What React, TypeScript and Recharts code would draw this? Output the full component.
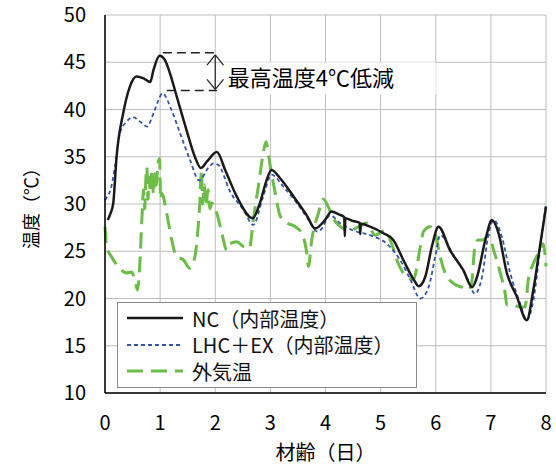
import {
  LineChart,
  Line,
  XAxis,
  YAxis,
  CartesianGrid,
  Legend,
  ReferenceLine,
  ReferenceArea,
} from "recharts";

// [材齢(日), 温度(℃)]
const ncPoints: [number, number][] = [
  [0.05, 28.3], [0.1, 29.0], [0.15, 30.1], [0.21, 35.0], [0.33, 39.6], [0.45, 42.4],
  [0.57, 43.5], [0.7, 43.3], [0.82, 42.9], [0.88, 44.2], [0.99, 45.7], [1.09, 45.2],
  [1.18, 43.8], [1.3, 41.4], [1.48, 37.8], [1.63, 35.0], [1.74, 33.8], [1.85, 34.5],
  [2.03, 35.5], [2.18, 33.6], [2.39, 30.8], [2.68, 28.5], [2.81, 30.1], [2.93, 32.5],
  [3.02, 33.6], [3.18, 32.7], [3.42, 30.8], [3.66, 28.8], [3.81, 27.4], [3.99, 28.3],
  [4.11, 29.2], [4.24, 28.9], [4.34, 28.6], [4.35, 26.6], [4.36, 28.5], [4.5, 28.2],
  [4.62, 28.0], [4.63, 26.8], [4.64, 27.9], [4.81, 27.6], [5.05, 26.9], [5.23, 26.2],
  [5.41, 24.1], [5.6, 22.0], [5.69, 21.3], [5.81, 22.3], [5.93, 25.5], [6.05, 27.6],
  [6.26, 25.1], [6.5, 23.0], [6.66, 21.2], [6.75, 22.3], [6.9, 26.2], [7.02, 28.3],
  [7.14, 26.9], [7.29, 22.7], [7.47, 20.2], [7.65, 17.7], [7.77, 20.9], [7.89, 25.5],
  [8.0, 29.7],
];

const lhcPoints: [number, number][] = [
  [0, 30.4], [0.04, 30.8], [0.09, 31.3], [0.18, 33.9], [0.27, 37.5], [0.39, 38.7],
  [0.51, 39.2], [0.64, 38.7], [0.76, 38.2], [0.88, 39.6], [0.97, 41.0], [1.04, 41.7],
  [1.21, 39.9], [1.36, 37.5], [1.54, 34.7], [1.71, 32.5], [1.87, 33.8], [1.97, 34.3],
  [2.06, 34.1], [2.27, 31.3], [2.51, 29.4], [2.69, 27.8], [2.87, 30.8], [3.02, 33.1],
  [3.24, 31.8], [3.48, 30.1], [3.72, 28.1], [3.84, 27.1], [3.92, 27.3], [4.08, 28.8],
  [4.26, 28.0], [4.5, 27.2], [4.81, 26.7], [5.11, 25.8], [5.35, 24.1], [5.54, 22.0],
  [5.72, 20.0], [5.87, 21.2], [5.99, 24.4], [6.08, 26.7], [6.32, 24.6], [6.56, 22.3],
  [6.71, 20.5], [6.84, 22.3], [6.96, 26.9], [7.05, 28.3], [7.2, 26.5], [7.35, 22.7],
  [7.53, 19.5], [7.65, 17.7], [7.77, 19.8], [7.89, 25.1], [8.0, 30.1],
];

const outsidePoints: [number, number][] = [
  [0, 27.6], [0.03, 25.5], [0.12, 24.4], [0.24, 23.4], [0.39, 22.7], [0.48, 22.8],
  [0.54, 22.0], [0.59, 20.9], [0.63, 23.5], [0.67, 28.5], [0.7, 31.5], [0.72, 29.5],
  [0.74, 32.5], [0.76, 33.9], [0.78, 30.5], [0.8, 32.8], [0.82, 31.2], [0.85, 33.5],
  [0.88, 31.0], [0.9, 33.2], [0.93, 32.0], [0.96, 34.3], [0.99, 34.8], [1.01, 30.5],
  [1.03, 31.1], [1.12, 29.0], [1.21, 26.2], [1.3, 24.4], [1.42, 24.1], [1.54, 23.2],
  [1.63, 24.4], [1.68, 26.9], [1.72, 30.1], [1.75, 33.6], [1.77, 30.0], [1.8, 32.0],
  [1.83, 29.8], [1.87, 31.5], [1.9, 29.5], [1.94, 30.1], [2.03, 29.0], [2.12, 26.9],
  [2.21, 25.1], [2.27, 25.8], [2.39, 26.0], [2.51, 25.5], [2.62, 25.3], [2.69, 28.3],
  [2.78, 31.8], [2.86, 35.0], [2.92, 36.6], [2.99, 34.3], [3.09, 31.1], [3.18, 28.7],
  [3.3, 28.0], [3.45, 27.6], [3.57, 26.9], [3.66, 24.8], [3.69, 23.4], [3.75, 26.2],
  [3.87, 29.0], [3.96, 30.5], [4.05, 29.7], [4.14, 28.5], [4.27, 27.6], [4.45, 27.2],
  [4.6, 27.6], [4.75, 28.0], [4.9, 26.7], [5.08, 27.2], [5.2, 25.8], [5.32, 23.7],
  [5.47, 22.3], [5.6, 22.0], [5.66, 23.4], [5.72, 25.5], [5.78, 27.1], [5.9, 27.6],
  [5.99, 26.9], [6.08, 24.4], [6.17, 22.7], [6.32, 21.6], [6.47, 21.2], [6.59, 20.9],
  [6.65, 21.6], [6.71, 25.5], [6.77, 26.2], [6.86, 26.2], [6.96, 26.7], [7.05, 25.1],
  [7.17, 22.7], [7.26, 20.5], [7.29, 19.3], [7.41, 19.3], [7.53, 19.1], [7.62, 19.1],
  [7.68, 22.0], [7.77, 23.7], [7.89, 25.1], [7.95, 25.8], [8.0, 23.4],
];

const xTicks = [0, 1, 2, 3, 4, 5, 6, 7, 8];
const yTicks = [10, 15, 20, 25, 30, 35, 40, 45, 50];
const seriesNames = ["NC（内部温度）", "LHC＋EX（内部温度）", "外気温"];

const toRows = (pts: [number, number][]) => pts.map(([t, v]) => ({ t, v }));

const FONT = '"Noto Sans CJK JP", "Noto Sans", sans-serif';

function LegendBox() {
  const samples = [
    { stroke: "#1a1a1a", dash: undefined, width: 2.5 },
    { stroke: "#3553a8", dash: "4 3", width: 1.8 },
    { stroke: "#6abd45", dash: "16 8", width: 3 },
  ];
  return (
    <div style={{ paddingTop: 2, paddingLeft: 9 }}>
      {seriesNames.map((name, i) => (
        <div key={name} style={{ display: "flex", alignItems: "center", height: 26.5 }}>
          <svg width={56} height={10} style={{ marginRight: 9 }}>
            <line
              x1={0}
              y1={5}
              x2={56}
              y2={5}
              stroke={samples[i].stroke}
              strokeWidth={samples[i].width}
              strokeDasharray={samples[i].dash}
            />
          </svg>
          <span style={{ fontSize: 20, color: "#111", fontFamily: FONT }}>{name}</span>
        </div>
      ))}
    </div>
  );
}

export default function App() {
  return (
    <div style={{ position: "absolute", left: 0, top: 0, fontFamily: FONT, background: "#fff" }}>
      <LineChart width={556} height={468} margin={{ top: 15, right: 10, bottom: 0, left: 0 }}>
        <CartesianGrid stroke="#bdbdbd" strokeWidth={1} />
        <XAxis
          type="number"
          dataKey="t"
          domain={[0, 8]}
          ticks={xTicks}
          height={75}
          tickSize={0}
          tickMargin={23}
          axisLine={{ stroke: "#000", strokeWidth: 1.5 }}
          tick={{ fill: "#000", fontSize: 20 }}
          label={{ value: "材齢（日）", position: "insideBottom", offset: 8, fill: "#000", fontSize: 20 }}
          allowDuplicatedCategory={false}
        />
        <YAxis
          type="number"
          domain={[10, 50]}
          ticks={yTicks}
          width={105}
          tickSize={0}
          tickMargin={19}
          axisLine={{ stroke: "#000", strokeWidth: 1.5 }}
          tick={{ fill: "#000", fontSize: 20 }}
          label={{
            value: "温度（℃）",
            angle: -90,
            position: "insideLeft",
            offset: 32,
            fill: "#000",
            fontSize: 18,
            style: { textAnchor: "middle" },
          }}
        />
        <ReferenceArea
          x1={2.1}
          x2={6.0}
          y1={41.6}
          y2={45}
          fill="#fff"
          fillOpacity={1}
          stroke="none"
          label={{ value: "最高温度4℃低減", position: "insideLeft", offset: 7, fill: "#000", fontSize: 22 }}
        />
        <ReferenceLine segment={[{ x: 1.05, y: 46 }, { x: 2.0, y: 46 }]} stroke="#222" strokeWidth={1.5} strokeDasharray="9 5" />
        <ReferenceLine segment={[{ x: 1.12, y: 42 }, { x: 2.03, y: 42 }]} stroke="#222" strokeWidth={1.5} strokeDasharray="9 5" />
        <ReferenceLine segment={[{ x: 2.0, y: 45.77 }, { x: 2.0, y: 42.14 }]} stroke="#222" strokeWidth={1.2} />
        <ReferenceLine segment={[{ x: 1.85, y: 44.7 }, { x: 2.0, y: 45.77 }]} stroke="#222" strokeWidth={1.2} />
        <ReferenceLine segment={[{ x: 2.15, y: 44.7 }, { x: 2.0, y: 45.77 }]} stroke="#222" strokeWidth={1.2} />
        <ReferenceLine segment={[{ x: 1.85, y: 43.2 }, { x: 2.0, y: 42.14 }]} stroke="#222" strokeWidth={1.2} />
        <ReferenceLine segment={[{ x: 2.15, y: 43.2 }, { x: 2.0, y: 42.14 }]} stroke="#222" strokeWidth={1.2} />
        <Line
          data={toRows(outsidePoints)}
          dataKey="v"
          name={seriesNames[2]}
          type="monotone"
          stroke="#6abd45"
          strokeWidth={3}
          strokeDasharray="16 8"
          dot={false}
          isAnimationActive={false}
        />
        <Line
          data={toRows(lhcPoints)}
          dataKey="v"
          name={seriesNames[1]}
          type="monotone"
          stroke="#3553a8"
          strokeWidth={1.8}
          strokeDasharray="4 3"
          dot={false}
          isAnimationActive={false}
        />
        <Line
          data={toRows(ncPoints)}
          dataKey="v"
          name={seriesNames[0]}
          type="monotone"
          stroke="#1a1a1a"
          strokeWidth={2.5}
          dot={false}
          isAnimationActive={false}
        />
        <Legend
          layout="vertical"
          align="center"
          verticalAlign="middle"
          width={300}
          height={86}
          content={() => <LegendBox />}
          wrapperStyle={{
            left: 117,
            top: 302,
            width: 300,
            height: 86,
            border: "1.5px solid #8a8a8a",
            background: "#fff",
            boxSizing: "border-box",
          }}
        />
      </LineChart>
    </div>
  );
}
